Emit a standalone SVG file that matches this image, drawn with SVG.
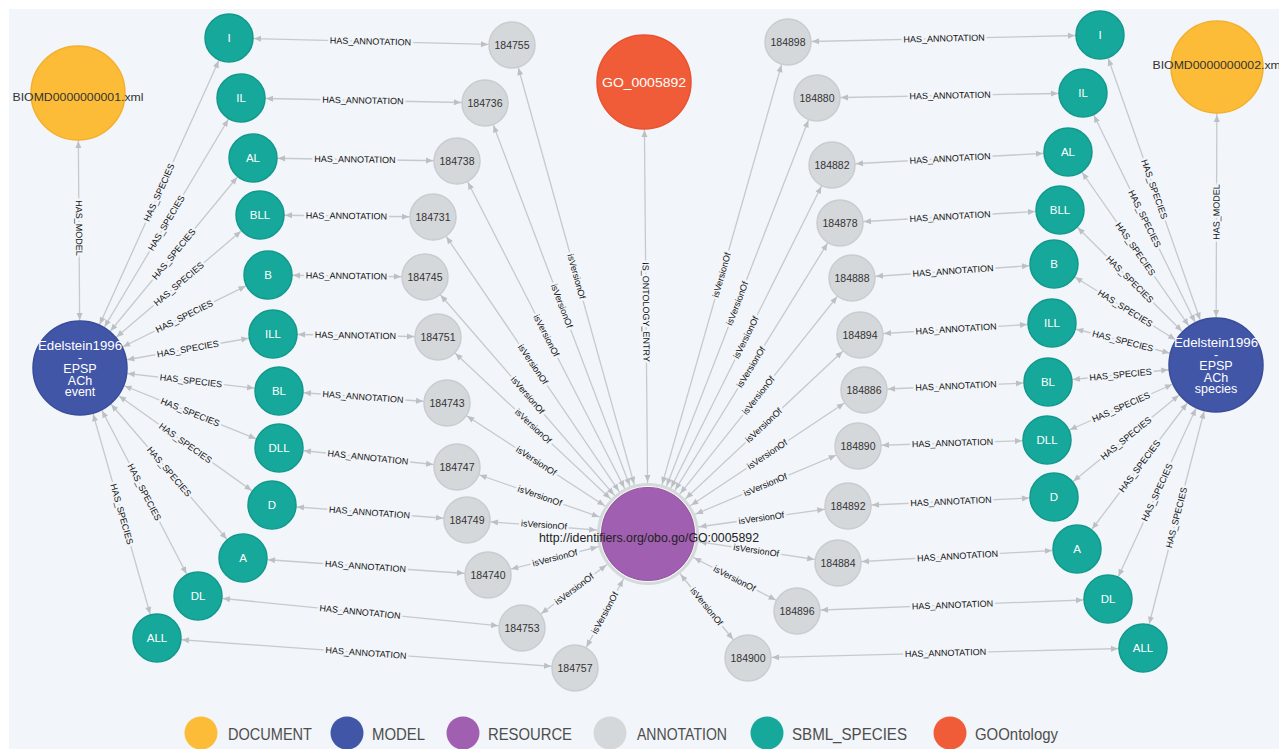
<svg xmlns="http://www.w3.org/2000/svg" width="1279" height="749" viewBox="0 0 1279 749">
<style>
.e{stroke:#c7cacd;stroke-width:1.3;fill:none}
.ha{marker-start:url(#s24);marker-end:url(#e23)}
.hs{marker-start:url(#s47);marker-end:url(#e24)}
.hm{marker-start:url(#s47);marker-end:url(#e47)}
.iv{marker-start:url(#s51);marker-end:url(#e23)}
.io{marker-start:url(#s51);marker-end:url(#e47)}
.l{font-family:"Liberation Sans",Arial,sans-serif;font-size:9px;fill:#111;text-anchor:middle;dominant-baseline:central;paint-order:stroke;stroke:#f2f5f9;stroke-width:5px;stroke-linejoin:round}
.t circle{fill:#15a89b;stroke:#12998d;stroke-width:1.5}
.t text{font-family:"Liberation Sans",Arial,sans-serif;font-size:11.5px;fill:#fff;text-anchor:middle}
.a circle{fill:#d5d8db;stroke:#c9ccd0;stroke-width:1.5}
.a text{font-family:"Liberation Sans",Arial,sans-serif;font-size:10.5px;fill:#333;text-anchor:middle}
.d circle{fill:#fcbc38;stroke:#f3b02c;stroke-width:1.5}
.d text{font-family:"Liberation Sans",Arial,sans-serif;font-size:11.5px;fill:#333;text-anchor:middle}
.m circle{fill:#4256a8;stroke:#3a4c98;stroke-width:1.5}
.m text{font-family:"Liberation Sans",Arial,sans-serif;font-size:12.5px;fill:#fff;text-anchor:middle}
.lg text{font-family:"Liberation Sans",Arial,sans-serif;font-size:17px;fill:#4d4d4d}
</style>
<defs>
<marker id="e23" markerUnits="userSpaceOnUse" orient="auto" refX="24" refY="0" markerWidth="8" markerHeight="8" overflow="visible"><path d="M0,0 L-7,-3 L-7,3Z" fill="#bcc0c4"/></marker>
<marker id="e24" markerUnits="userSpaceOnUse" orient="auto" refX="25" refY="0" markerWidth="8" markerHeight="8" overflow="visible"><path d="M0,0 L-7,-3 L-7,3Z" fill="#bcc0c4"/></marker>
<marker id="e47" markerUnits="userSpaceOnUse" orient="auto" refX="48" refY="0" markerWidth="8" markerHeight="8" overflow="visible"><path d="M0,0 L-7,-3 L-7,3Z" fill="#bcc0c4"/></marker>
<marker id="s24" markerUnits="userSpaceOnUse" orient="auto" refX="-25" refY="0" markerWidth="8" markerHeight="8" overflow="visible"><path d="M0,0 L7,-3 L7,3Z" fill="#bcc0c4"/></marker>
<marker id="s47" markerUnits="userSpaceOnUse" orient="auto" refX="-48" refY="0" markerWidth="8" markerHeight="8" overflow="visible"><path d="M0,0 L7,-3 L7,3Z" fill="#bcc0c4"/></marker>
<marker id="s51" markerUnits="userSpaceOnUse" orient="auto" refX="-52" refY="0" markerWidth="8" markerHeight="8" overflow="visible"><path d="M0,0 L7,-3 L7,3Z" fill="#bcc0c4"/></marker>
</defs>
<rect x="0" y="0" width="1279" height="749" fill="#ffffff"/>
<rect x="9" y="9" width="1270" height="740" fill="#f2f5f9"/>

<g id="connectors">
<line class="e hm" x1="78" y1="93" x2="80" y2="368"/>
<line class="e hm" x1="1217" y1="67" x2="1216" y2="365"/>
<line class="e io" x1="648" y1="534" x2="644" y2="82"/>
<line class="e ha" x1="229" y1="38" x2="512" y2="45"/>
<line class="e ha" x1="241" y1="98" x2="485" y2="103"/>
<line class="e ha" x1="253" y1="158" x2="457" y2="161"/>
<line class="e ha" x1="260" y1="215" x2="433" y2="217"/>
<line class="e ha" x1="268" y1="275" x2="425" y2="277"/>
<line class="e ha" x1="273" y1="334" x2="438" y2="337"/>
<line class="e ha" x1="279" y1="391" x2="447" y2="403"/>
<line class="e ha" x1="279" y1="448" x2="457" y2="467"/>
<line class="e ha" x1="272" y1="505" x2="467" y2="520"/>
<line class="e ha" x1="243" y1="558" x2="488" y2="575"/>
<line class="e ha" x1="198" y1="596" x2="522" y2="628"/>
<line class="e ha" x1="157" y1="638" x2="575" y2="668"/>
<line class="e ha" x1="1100" y1="35" x2="788" y2="42"/>
<line class="e ha" x1="1083" y1="93" x2="817" y2="98"/>
<line class="e ha" x1="1068" y1="152" x2="832" y2="165"/>
<line class="e ha" x1="1060" y1="210" x2="840" y2="223"/>
<line class="e ha" x1="1054" y1="264" x2="852" y2="278"/>
<line class="e ha" x1="1052" y1="323" x2="860" y2="335"/>
<line class="e ha" x1="1048" y1="382" x2="864" y2="390"/>
<line class="e ha" x1="1047" y1="440" x2="858" y2="446"/>
<line class="e ha" x1="1054" y1="497" x2="848" y2="506"/>
<line class="e ha" x1="1077" y1="549" x2="838" y2="563"/>
<line class="e ha" x1="1108" y1="599" x2="797" y2="611"/>
<line class="e ha" x1="1143" y1="648" x2="748" y2="658"/>
<line class="e hs" x1="80" y1="368" x2="229" y2="38"/>
<line class="e hs" x1="80" y1="368" x2="241" y2="98"/>
<line class="e hs" x1="80" y1="368" x2="253" y2="158"/>
<line class="e hs" x1="80" y1="368" x2="260" y2="215"/>
<line class="e hs" x1="80" y1="368" x2="268" y2="275"/>
<line class="e hs" x1="80" y1="368" x2="273" y2="334"/>
<line class="e hs" x1="80" y1="368" x2="279" y2="391"/>
<line class="e hs" x1="80" y1="368" x2="279" y2="448"/>
<line class="e hs" x1="80" y1="368" x2="272" y2="505"/>
<line class="e hs" x1="80" y1="368" x2="243" y2="558"/>
<line class="e hs" x1="80" y1="368" x2="198" y2="596"/>
<line class="e hs" x1="80" y1="368" x2="157" y2="638"/>
<line class="e hs" x1="1216" y1="365" x2="1100" y2="35"/>
<line class="e hs" x1="1216" y1="365" x2="1083" y2="93"/>
<line class="e hs" x1="1216" y1="365" x2="1068" y2="152"/>
<line class="e hs" x1="1216" y1="365" x2="1060" y2="210"/>
<line class="e hs" x1="1216" y1="365" x2="1054" y2="264"/>
<line class="e hs" x1="1216" y1="365" x2="1052" y2="323"/>
<line class="e hs" x1="1216" y1="365" x2="1048" y2="382"/>
<line class="e hs" x1="1216" y1="365" x2="1047" y2="440"/>
<line class="e hs" x1="1216" y1="365" x2="1054" y2="497"/>
<line class="e hs" x1="1216" y1="365" x2="1077" y2="549"/>
<line class="e hs" x1="1216" y1="365" x2="1108" y2="599"/>
<line class="e hs" x1="1216" y1="365" x2="1143" y2="648"/>
<line class="e iv" x1="648" y1="534" x2="512" y2="45"/>
<line class="e iv" x1="648" y1="534" x2="485" y2="103"/>
<line class="e iv" x1="648" y1="534" x2="457" y2="161"/>
<line class="e iv" x1="648" y1="534" x2="433" y2="217"/>
<line class="e iv" x1="648" y1="534" x2="425" y2="277"/>
<line class="e iv" x1="648" y1="534" x2="438" y2="337"/>
<line class="e iv" x1="648" y1="534" x2="447" y2="403"/>
<line class="e iv" x1="648" y1="534" x2="457" y2="467"/>
<line class="e iv" x1="648" y1="534" x2="467" y2="520"/>
<line class="e iv" x1="648" y1="534" x2="488" y2="575"/>
<line class="e iv" x1="648" y1="534" x2="522" y2="628"/>
<line class="e iv" x1="648" y1="534" x2="575" y2="668"/>
<line class="e iv" x1="648" y1="534" x2="788" y2="42"/>
<line class="e iv" x1="648" y1="534" x2="817" y2="98"/>
<line class="e iv" x1="648" y1="534" x2="832" y2="165"/>
<line class="e iv" x1="648" y1="534" x2="840" y2="223"/>
<line class="e iv" x1="648" y1="534" x2="852" y2="278"/>
<line class="e iv" x1="648" y1="534" x2="860" y2="335"/>
<line class="e iv" x1="648" y1="534" x2="864" y2="390"/>
<line class="e iv" x1="648" y1="534" x2="858" y2="446"/>
<line class="e iv" x1="648" y1="534" x2="848" y2="506"/>
<line class="e iv" x1="648" y1="534" x2="838" y2="563"/>
<line class="e iv" x1="648" y1="534" x2="797" y2="611"/>
<line class="e iv" x1="648" y1="534" x2="748" y2="658"/>

<text class="l" transform="translate(79,228) rotate(89.6)">HAS_MODEL</text>
<text class="l" transform="translate(1216.5,212) rotate(-89.8)">HAS_MODEL</text>
<text class="l" transform="translate(646,312) rotate(89.5)">IS_ONTOLOGY_ENTRY</text>

<text class="l" transform="translate(370.5,41.5) rotate(1.4)">HAS_ANNOTATION</text>
<text class="l" transform="translate(363,100.5) rotate(1.2)">HAS_ANNOTATION</text>
<text class="l" transform="translate(355,159.5) rotate(0.8)">HAS_ANNOTATION</text>
<text class="l" transform="translate(346.5,216) rotate(0.7)">HAS_ANNOTATION</text>
<text class="l" transform="translate(346.5,276) rotate(0.7)">HAS_ANNOTATION</text>
<text class="l" transform="translate(355.5,335.5) rotate(1)">HAS_ANNOTATION</text>
<text class="l" transform="translate(363,397) rotate(4.1)">HAS_ANNOTATION</text>
<text class="l" transform="translate(368,457.5) rotate(6.1)">HAS_ANNOTATION</text>
<text class="l" transform="translate(369.5,512.5) rotate(4.4)">HAS_ANNOTATION</text>
<text class="l" transform="translate(365.5,566.5) rotate(4)">HAS_ANNOTATION</text>
<text class="l" transform="translate(360,612) rotate(5.6)">HAS_ANNOTATION</text>
<text class="l" transform="translate(366,653) rotate(4.1)">HAS_ANNOTATION</text>

<text class="l" transform="translate(944,38.5) rotate(-1.3)">HAS_ANNOTATION</text>
<text class="l" transform="translate(950,95.5) rotate(-1.1)">HAS_ANNOTATION</text>
<text class="l" transform="translate(950,158.5) rotate(-3.2)">HAS_ANNOTATION</text>
<text class="l" transform="translate(950,216.5) rotate(-3.4)">HAS_ANNOTATION</text>
<text class="l" transform="translate(953,271) rotate(-4)">HAS_ANNOTATION</text>
<text class="l" transform="translate(956,329) rotate(-3.6)">HAS_ANNOTATION</text>
<text class="l" transform="translate(956,386) rotate(-2.5)">HAS_ANNOTATION</text>
<text class="l" transform="translate(952.5,443) rotate(-1.8)">HAS_ANNOTATION</text>
<text class="l" transform="translate(951,501.5) rotate(-2.5)">HAS_ANNOTATION</text>
<text class="l" transform="translate(957.5,556) rotate(-3.4)">HAS_ANNOTATION</text>
<text class="l" transform="translate(952.5,605) rotate(-2.2)">HAS_ANNOTATION</text>
<text class="l" transform="translate(945.5,653) rotate(-1.5)">HAS_ANNOTATION</text>

<text class="l" transform="translate(159.2,192.5) rotate(-65.7)">HAS_SPECIES</text>
<text class="l" transform="translate(166.4,223.1) rotate(-59.2)">HAS_SPECIES</text>
<text class="l" transform="translate(173.8,254.1) rotate(-50.5)">HAS_SPECIES</text>
<text class="l" transform="translate(178.8,284) rotate(-40.4)">HAS_SPECIES</text>
<text class="l" transform="translate(184.3,316.4) rotate(-26.3)">HAS_SPECIES</text>
<text class="l" transform="translate(187.8,349) rotate(-10)">HAS_SPECIES</text>
<text class="l" transform="translate(190.9,380.8) rotate(6.6)">HAS_SPECIES</text>
<text class="l" transform="translate(190.2,412.3) rotate(21.9)">HAS_SPECIES</text>
<text class="l" transform="translate(185.4,443.2) rotate(35.5)">HAS_SPECIES</text>
<text class="l" transform="translate(169,471.7) rotate(49.4)">HAS_SPECIES</text>
<text class="l" transform="translate(144.3,492.2) rotate(62.6)">HAS_SPECIES</text>
<text class="l" transform="translate(121.7,514.1) rotate(74.1)">HAS_SPECIES</text>

<text class="l" transform="translate(1154.2,189.2) rotate(70.6)">HAS_SPECIES</text>
<text class="l" transform="translate(1144.5,218.7) rotate(63.9)">HAS_SPECIES</text>
<text class="l" transform="translate(1135.4,249.1) rotate(55.2)">HAS_SPECIES</text>
<text class="l" transform="translate(1129.8,279.4) rotate(44.8)">HAS_SPECIES</text>
<text class="l" transform="translate(1125.2,308.4) rotate(31.9)">HAS_SPECIES</text>
<text class="l" transform="translate(1122.9,341.1) rotate(14.4)">HAS_SPECIES</text>
<text class="l" transform="translate(1120.6,374.7) rotate(-5.8)">HAS_SPECIES</text>
<text class="l" transform="translate(1121,407.2) rotate(-23.9)">HAS_SPECIES</text>
<text class="l" transform="translate(1126.1,438.3) rotate(-39.2)">HAS_SPECIES</text>
<text class="l" transform="translate(1139.6,466.2) rotate(-52.9)">HAS_SPECIES</text>
<text class="l" transform="translate(1157.2,492.4) rotate(-65.2)">HAS_SPECIES</text>
<text class="l" transform="translate(1176.6,517.6) rotate(-75.5)">HAS_SPECIES</text>

<text class="l" transform="translate(576.4,276.5) rotate(74.5)">isVersionOf</text>
<text class="l" transform="translate(561.7,305.9) rotate(69.3)">isVersionOf</text>
<text class="l" transform="translate(546.3,335.5) rotate(62.9)">isVersionOf</text>
<text class="l" transform="translate(532.9,364.3) rotate(55.9)">isVersionOf</text>
<text class="l" transform="translate(527.7,395.3) rotate(49.1)">isVersionOf</text>
<text class="l" transform="translate(533.2,426.3) rotate(43.2)">isVersionOf</text>
<text class="l" transform="translate(536.2,461.1) rotate(33.1)">isVersionOf</text>
<text class="l" transform="translate(539.8,496) rotate(19.3)">isVersionOf</text>
<text class="l" transform="translate(544,525) rotate(4.4)">isVersionOf</text>
<text class="l" transform="translate(554.9,557.9) rotate(-14.4)">isVersionOf</text>
<text class="l" transform="translate(574.2,589.1) rotate(-36.7)">isVersionOf</text>
<text class="l" transform="translate(605,612.9) rotate(-61.4)">isVersionOf</text>

<text class="l" transform="translate(721.7,275) rotate(-74.1)">isVersionOf</text>
<text class="l" transform="translate(737.4,303.4) rotate(-68.8)">isVersionOf</text>
<text class="l" transform="translate(746,337.4) rotate(-63.5)">isVersionOf</text>
<text class="l" transform="translate(751.1,367) rotate(-58.3)">isVersionOf</text>
<text class="l" transform="translate(758.4,395.4) rotate(-51.4)">isVersionOf</text>
<text class="l" transform="translate(763.8,425.3) rotate(-43.2)">isVersionOf</text>
<text class="l" transform="translate(767.2,454.5) rotate(-33.7)">isVersionOf</text>
<text class="l" transform="translate(765.4,484.8) rotate(-22.7)">isVersionOf</text>
<text class="l" transform="translate(761.4,518.1) rotate(-8)">isVersionOf</text>
<text class="l" transform="translate(756.3,550.5) rotate(8.7)">isVersionOf</text>
<text class="l" transform="translate(734.5,578.7) rotate(27.3)">isVersionOf</text>
<text class="l" transform="translate(706.5,606.5) rotate(51.1)">isVersionOf</text>
</g>

<g id="nodes">
<g id="doc1" class="d"><circle cx="78" cy="93" r="47"/><text x="78" y="101" textLength="131" lengthAdjust="spacingAndGlyphs">BIOMD0000000001.xml</text></g>
<g id="doc2" class="d"><circle cx="1217" cy="67" r="46"/><text x="1218" y="69" textLength="131" lengthAdjust="spacingAndGlyphs">BIOMD0000000002.xml</text></g>
<g id="model1" class="m"><circle cx="80" cy="368" r="47"/>
<text x="80" y="350" textLength="84" lengthAdjust="spacingAndGlyphs">Edelstein1996</text><text x="80" y="361.5">-</text><text x="80" y="373">EPSP</text><text x="80" y="384.5">ACh</text><text x="80" y="396">event</text></g>
<g id="model2" class="m"><circle cx="1216" cy="365" r="47"/>
<text x="1216" y="347" textLength="84" lengthAdjust="spacingAndGlyphs">Edelstein1996</text><text x="1216" y="358.5">-</text><text x="1216" y="370">EPSP</text><text x="1216" y="381.5">ACh</text><text x="1216" y="393">species</text></g>
<g id="go"><circle cx="644" cy="82" r="47" fill="#f05c38" stroke="#e8522e" stroke-width="1.5"/><text x="644" y="87" font-family="Liberation Sans, Arial, sans-serif" font-size="12.5" fill="#fff" text-anchor="middle" textLength="84" lengthAdjust="spacingAndGlyphs">GO_0005892</text></g>
<g id="resource"><circle cx="648" cy="534" r="49.5" fill="#fbfbfb" stroke="#d3dad7" stroke-width="3"/><circle cx="648" cy="534" r="46.5" fill="#a05fb0" stroke="#9656a6" stroke-width="1.2"/><text x="649" y="542" font-family="Liberation Sans, Arial, sans-serif" font-size="12" fill="#222" text-anchor="middle" textLength="220" lengthAdjust="spacingAndGlyphs">http://identifiers.org/obo.go/GO:0005892</text></g>

<g id="sL-I" class="t"><circle cx="229" cy="38" r="24"/><text x="229" y="42">I</text></g>
<g id="sL-IL" class="t"><circle cx="241" cy="98" r="24"/><text x="241" y="102">IL</text></g>
<g id="sL-AL" class="t"><circle cx="253" cy="158" r="24"/><text x="253" y="162">AL</text></g>
<g id="sL-BLL" class="t"><circle cx="260" cy="215" r="24"/><text x="260" y="219">BLL</text></g>
<g id="sL-B" class="t"><circle cx="268" cy="275" r="24"/><text x="268" y="279">B</text></g>
<g id="sL-ILL" class="t"><circle cx="273" cy="334" r="24"/><text x="273" y="338">ILL</text></g>
<g id="sL-BL" class="t"><circle cx="279" cy="391" r="24"/><text x="279" y="395">BL</text></g>
<g id="sL-DLL" class="t"><circle cx="279" cy="448" r="24"/><text x="279" y="452">DLL</text></g>
<g id="sL-D" class="t"><circle cx="272" cy="505" r="24"/><text x="272" y="509">D</text></g>
<g id="sL-A" class="t"><circle cx="243" cy="558" r="24"/><text x="243" y="562">A</text></g>
<g id="sL-DL" class="t"><circle cx="198" cy="596" r="24"/><text x="198" y="600">DL</text></g>
<g id="sL-ALL" class="t"><circle cx="157" cy="638" r="24"/><text x="157" y="642">ALL</text></g>

<g id="sR-I" class="t"><circle cx="1100" cy="35" r="24"/><text x="1100" y="39">I</text></g>
<g id="sR-IL" class="t"><circle cx="1083" cy="93" r="24"/><text x="1083" y="97">IL</text></g>
<g id="sR-AL" class="t"><circle cx="1068" cy="152" r="24"/><text x="1068" y="156">AL</text></g>
<g id="sR-BLL" class="t"><circle cx="1060" cy="210" r="24"/><text x="1060" y="214">BLL</text></g>
<g id="sR-B" class="t"><circle cx="1054" cy="264" r="24"/><text x="1054" y="268">B</text></g>
<g id="sR-ILL" class="t"><circle cx="1052" cy="323" r="24"/><text x="1052" y="327">ILL</text></g>
<g id="sR-BL" class="t"><circle cx="1048" cy="382" r="24"/><text x="1048" y="386">BL</text></g>
<g id="sR-DLL" class="t"><circle cx="1047" cy="440" r="24"/><text x="1047" y="444">DLL</text></g>
<g id="sR-D" class="t"><circle cx="1054" cy="497" r="24"/><text x="1054" y="501">D</text></g>
<g id="sR-A" class="t"><circle cx="1077" cy="549" r="24"/><text x="1077" y="553">A</text></g>
<g id="sR-DL" class="t"><circle cx="1108" cy="599" r="24"/><text x="1108" y="603">DL</text></g>
<g id="sR-ALL" class="t"><circle cx="1143" cy="648" r="24"/><text x="1143" y="652">ALL</text></g>

<g id="a184755" class="a"><circle cx="512" cy="45" r="23"/><text x="512" y="49">184755</text></g>
<g id="a184736" class="a"><circle cx="485" cy="103" r="23"/><text x="485" y="107">184736</text></g>
<g id="a184738" class="a"><circle cx="457" cy="161" r="23"/><text x="457" y="165">184738</text></g>
<g id="a184731" class="a"><circle cx="433" cy="217" r="23"/><text x="433" y="221">184731</text></g>
<g id="a184745" class="a"><circle cx="425" cy="277" r="23"/><text x="425" y="281">184745</text></g>
<g id="a184751" class="a"><circle cx="438" cy="337" r="23"/><text x="438" y="341">184751</text></g>
<g id="a184743" class="a"><circle cx="447" cy="403" r="23"/><text x="447" y="407">184743</text></g>
<g id="a184747" class="a"><circle cx="457" cy="467" r="23"/><text x="457" y="471">184747</text></g>
<g id="a184749" class="a"><circle cx="467" cy="520" r="23"/><text x="467" y="524">184749</text></g>
<g id="a184740" class="a"><circle cx="488" cy="575" r="23"/><text x="488" y="579">184740</text></g>
<g id="a184753" class="a"><circle cx="522" cy="628" r="23"/><text x="522" y="632">184753</text></g>
<g id="a184757" class="a"><circle cx="575" cy="668" r="23"/><text x="575" y="672">184757</text></g>

<g id="a184898" class="a"><circle cx="788" cy="42" r="23"/><text x="788" y="46">184898</text></g>
<g id="a184880" class="a"><circle cx="817" cy="98" r="23"/><text x="817" y="102">184880</text></g>
<g id="a184882" class="a"><circle cx="832" cy="165" r="23"/><text x="832" y="169">184882</text></g>
<g id="a184878" class="a"><circle cx="840" cy="223" r="23"/><text x="840" y="227">184878</text></g>
<g id="a184888" class="a"><circle cx="852" cy="278" r="23"/><text x="852" y="282">184888</text></g>
<g id="a184894" class="a"><circle cx="860" cy="335" r="23"/><text x="860" y="339">184894</text></g>
<g id="a184886" class="a"><circle cx="864" cy="390" r="23"/><text x="864" y="394">184886</text></g>
<g id="a184890" class="a"><circle cx="858" cy="446" r="23"/><text x="858" y="450">184890</text></g>
<g id="a184892" class="a"><circle cx="848" cy="506" r="23"/><text x="848" y="510">184892</text></g>
<g id="a184884" class="a"><circle cx="838" cy="563" r="23"/><text x="838" y="567">184884</text></g>
<g id="a184896" class="a"><circle cx="797" cy="611" r="23"/><text x="797" y="615">184896</text></g>
<g id="a184900" class="a"><circle cx="748" cy="658" r="23"/><text x="748" y="662">184900</text></g>
</g>

<g id="legend" class="lg">
<circle cx="201" cy="733" r="16.5" fill="#fcbc38"/><text x="228" y="740" textLength="84" lengthAdjust="spacingAndGlyphs">DOCUMENT</text>
<circle cx="347" cy="733" r="16.5" fill="#4256a8"/><text x="372" y="740" textLength="53" lengthAdjust="spacingAndGlyphs">MODEL</text>
<circle cx="463" cy="733" r="16.5" fill="#a05fb0"/><text x="488" y="740" textLength="84" lengthAdjust="spacingAndGlyphs">RESOURCE</text>
<circle cx="610" cy="733" r="16.5" fill="#d5d8db"/><text x="637" y="740" textLength="90" lengthAdjust="spacingAndGlyphs">ANNOTATION</text>
<circle cx="767" cy="733" r="16.5" fill="#15a89b"/><text x="792" y="740" textLength="115" lengthAdjust="spacingAndGlyphs">SBML_SPECIES</text>
<circle cx="950" cy="733" r="16.5" fill="#f05c38"/><text x="975" y="740" textLength="83" lengthAdjust="spacingAndGlyphs">GOOntology</text>
</g>
</svg>
